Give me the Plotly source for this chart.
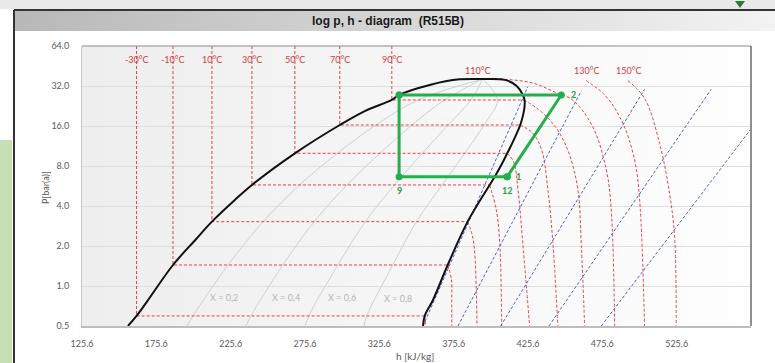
import base64
import math
import plotly.graph_objects as go

# ---------------- data ----------------
# saturation dome: liquid line up to critical point, then vapour line down
dome_h = [156.5, 162.3, 169.3, 186.8, 201.8, 213.0, 228.4, 239.9, 268.8, 299.0, 316.5,
          334.0, 338.9, 359.5, 379.7, 395.1, 410.0, 417.8, 422.2, 423.4, 421.1, 415.5,
          411.6, 408.8, 403.2, 399.8, 385.0, 371.6, 361.7, 356.1, 355.0]
dome_p = [0.5, 0.595, 0.763, 1.439, 2.22, 3.05, 4.44, 5.76, 9.97, 16.28, 20.9,
          25.11, 27.4, 32.6, 35.9, 36.12, 35.6, 32.2, 27.4, 24.4, 17.2, 12.2,
          9.97, 8.62, 6.65, 5.76, 3.05, 1.439, 0.785, 0.595, 0.5]

# isotherms (h, p); subcritical ones: top -> liquid line -> vapour line -> superheated curve
t_m30_h = [162.3, 162.3, 356.1, 356.8]
t_m30_p = [64, 0.595, 0.595, 0.5]
t_m10_h = [186.8, 186.8, 371.6, 374.1, 374.3, 374.3]
t_m10_p = [64, 1.439, 1.439, 1.11, 0.785, 0.5]
t_10_h = [213.0, 213.0, 385.0, 388.1, 389.8, 390.8, 391.3]
t_10_p = [64, 3.05, 3.05, 2.42, 1.762, 0.933, 0.5]
t_30_h = [239.9, 239.9, 399.8, 404.3, 406.6, 407.9]
t_30_p = [64, 5.76, 5.76, 3.73, 2.10, 0.5]
t_50_h = [268.8, 268.8, 411.6, 416.0, 418.9, 422.2, 426.7]
t_50_p = [64, 9.97, 9.97, 8.57, 5.28, 2.03, 0.5]
t_70_h = [299.0, 299.0, 420.3, 428.7, 434.8, 439.0, 442.2, 445.7]
t_70_p = [64, 16.28, 16.28, 14.17, 10.56, 5.28, 2.22, 0.5]
t_90_h = [334.0, 334.0, 422.7, 431.4, 440.2, 446.9, 453.6, 459.2, 461.5, 463.7]
t_90_p = [64, 25.11, 25.11, 21.86, 17.75, 14.10, 9.68, 5.28, 1.976, 0.5]
t_110_h = [396.5, 406.6, 428.7, 443.5, 455.6, 469.1, 478.3, 481.6, 483.9]
t_110_p = [36.12, 36.12, 33.71, 28.84, 25.11, 15.81, 7.46, 3.73, 0.5]
t_130_h = [464.8, 478.3, 489.4, 497.3, 500.7, 504.0]
t_130_p = [35.08, 26.59, 16.77, 8.88, 4.44, 0.5]
t_150_h = [492.8, 504.0, 514.1, 520.8, 524.2, 525.3]
t_150_p = [35.08, 25.86, 11.86, 4.98, 2.35, 0.5]

iso_labels = ["-30°C", "-10°C", "10°C", "30°C", "50°C", "70°C", "90°C", "110°C", "130°C", "150°C"]
iso_label_h = [162.3, 186.8, 213.0, 239.9, 268.8, 299.0, 334.0, 391.8, 464.8, 493.5]
iso_label_p = [50.8, 50.8, 50.8, 50.8, 50.8, 50.8, 50.8, 42.2, 42.2, 42.2]

# isentropes (start at bottom, end top-right)
s1_h = [355.0, 425.5]; s1_p = [0.5, 31.6]
s2_h = [378.5, 461.5]; s2_p = [0.5, 29.5]
s3_h = [407.2, 504.0]; s3_p = [0.5, 30.2]
s4_h = [439.7, 548.8]; s4_p = [0.5, 30.2]
s5_h = [474.9, 575.0]; s5_p = [0.5, 14.93]

# vapour quality lines
q_p = [0.5, 0.595, 1.439, 3.05, 5.76, 9.97, 16.28, 25.11, 36.12]
x02_h = [196.2, 200.2, 223.8, 247.4, 271.9, 297.4, 323.3, 351.7, 395.1]
x04_h = [235.9, 239.2, 260.7, 281.8, 303.9, 326.0, 347.5, 369.5, 395.1]
x06_h = [275.7, 278.1, 297.7, 316.2, 335.8, 354.5, 371.8, 387.2, 395.1]
x08_h = [315.3, 317.1, 334.6, 350.6, 367.8, 383.0, 396.0, 405.0, 395.1]
q_labels = ["X = 0,2", "X = 0,4", "X = 0,6", "X = 0,8"]
q_label_h = [220.8, 262.7, 300.4, 338.0]
q_label_p = [0.822, 0.822, 0.822, 0.81]

# refrigeration cycle
cycle_h = [338.9, 448.0, 411.6, 411.6, 338.9, 338.9]
cycle_p = [27.4, 27.4, 6.65, 6.65, 6.65, 27.4]
pt_labels = ["2", "1", "12", "9"]
pt_h = [448.0, 411.6, 411.6, 338.9]
pt_p = [27.4, 6.65, 6.65, 6.65]

x_ticks = [125.6, 175.6, 225.6, 275.6, 325.6, 375.6, 425.6, 475.6, 525.6]
y_ticks = [0.5, 1, 2, 4, 8, 16, 32, 64]
y_ticktext = ["0.5", "1.0", "2.0", "4.0", "8.0", "16.0", "32.0", "64.0"]

# ---------------- style ----------------
RED = "#e2434a"
BLUE = "#4f5fbf"
GREEN = "#22b04b"
GREY_Q = "#d0d0d0"
TICKC = "#595959"
FONT = "Lato, Calibri, Arial, sans-serif"
W, H = 775, 363
L, R, T, B = 82, 24, 46, 37
PW, PH = W - L - R, H - T - B


def px_x(px):
    return (px - L) / PW


def px_y(py):
    return (H - B - py) / PH


def grad(c1, c2):
    svg = ('<svg xmlns="http://www.w3.org/2000/svg" width="100" height="10" preserveAspectRatio="none">'
           '<defs><linearGradient id="g" x1="0" y1="0" x2="1" y2="0">'
           f'<stop offset="0" stop-color="{c1}"/><stop offset="1" stop-color="{c2}"/>'
           '</linearGradient></defs><rect width="100" height="10" fill="url(#g)"/></svg>')
    return "data:image/svg+xml;base64," + base64.b64encode(svg.encode()).decode()


fig = go.Figure()

# quality lines
for qh in [x02_h, x04_h, x06_h, x08_h]:
    fig.add_trace(go.Scatter(x=qh, y=q_p, mode="lines", line=dict(color=GREY_Q, width=1, shape="spline"),
                             hoverinfo="skip", showlegend=False))

# isotherms
subcrit = [(t_m30_h, t_m30_p), (t_m10_h, t_m10_p), (t_10_h, t_10_p), (t_30_h, t_30_p),
           (t_50_h, t_50_p), (t_70_h, t_70_p), (t_90_h, t_90_p)]
for th, tp in subcrit:
    fig.add_trace(go.Scatter(x=th[:3], y=tp[:3], mode="lines",
                             line=dict(color=RED, width=1, dash="3px,2px"),
                             hoverinfo="skip", showlegend=False))
    fig.add_trace(go.Scatter(x=th[2:], y=tp[2:], mode="lines",
                             line=dict(color=RED, width=1, dash="3px,2px", shape="spline"),
                             hoverinfo="skip", showlegend=False))
for th, tp in [(t_110_h, t_110_p), (t_130_h, t_130_p), (t_150_h, t_150_p)]:
    fig.add_trace(go.Scatter(x=th, y=tp, mode="lines",
                             line=dict(color=RED, width=1, dash="3px,2px", shape="spline"),
                             hoverinfo="skip", showlegend=False))

# isentropes
for sh, sp in [(s1_h, s1_p), (s2_h, s2_p), (s3_h, s3_p), (s4_h, s4_p), (s5_h, s5_p)]:
    fig.add_trace(go.Scatter(x=sh, y=sp, mode="lines", line=dict(color=BLUE, width=1, dash="3px,2px"),
                             hoverinfo="skip", showlegend=False))

# dome
fig.add_trace(go.Scatter(x=dome_h, y=dome_p, mode="lines",
                         line=dict(color="#111111", width=2, shape="spline", smoothing=1.0),
                         hoverinfo="skip", showlegend=False))

# cycle
fig.add_trace(go.Scatter(x=cycle_h, y=cycle_p, mode="lines+markers",
                         line=dict(color=GREEN, width=3), marker=dict(color=GREEN, size=7),
                         hoverinfo="skip", showlegend=False))

annotations = []
for lab, h, p in zip(iso_labels, iso_label_h, iso_label_p):
    annotations.append(dict(x=h, y=math.log10(p), xref="x", yref="y", text=lab, showarrow=False,
                            xanchor="center", yanchor="middle",
                            font=dict(family=FONT, size=9, color="#cc4040")))
for lab, h, p in zip(q_labels, q_label_h, q_label_p):
    annotations.append(dict(x=h, y=math.log10(p), xref="x", yref="y", text=lab, showarrow=False,
                            xanchor="center", yanchor="middle",
                            font=dict(family=FONT, size=9, color="#b5b5b5")))
offs = {"2": (12, 0), "1": (11, 0), "12": (0, -14), "9": (0, -14)}
for lab, h, p in zip(pt_labels, pt_h, pt_p):
    dx, dy = offs[lab]
    annotations.append(dict(x=h, y=math.log10(p), xref="x", yref="y", text=f"<b>{lab}</b>",
                            showarrow=False, xanchor="center", yanchor="middle",
                            xshift=dx, yshift=dy, font=dict(family=FONT, size=9, color="#1d9e43")))

annotations += [
    dict(x=px_x(388), y=px_y(21), xref="paper", yref="paper", text="<b>log p, h - diagram  (R515B)</b>",
         showarrow=False, font=dict(family="Liberation Sans Narrow, Liberation Sans, Arial", size=12,
                                    color="#1a1a1a"), xanchor="center", yanchor="middle"),
    dict(x=px_x(45), y=px_y(188), xref="paper", yref="paper", text="P[bar(a)]", textangle=-90,
         showarrow=False, xanchor="center", yanchor="middle",
         font=dict(family=FONT, size=9, color=TICKC)),
    dict(x=px_x(415), y=px_y(356), xref="paper", yref="paper", text="h [kJ/kg]",
         showarrow=False, xanchor="center", yanchor="middle",
         font=dict(family=FONT, size=10, color=TICKC)),
]

shapes = [
    # top strip
    dict(type="rect", xref="paper", yref="paper", x0=px_x(0), x1=px_x(W), y0=px_y(0), y1=px_y(9),
         fillcolor="#e9e9e9", line=dict(width=0), layer="below"),
    dict(type="path", xref="paper", yref="paper",
         path=f"M {px_x(735)} {px_y(1)} L {px_x(745)} {px_y(1)} L {px_x(740)} {px_y(8)} Z",
         fillcolor="#2e7d32", line=dict(width=0)),
    # green sidebar
    dict(type="rect", xref="paper", yref="paper", x0=px_x(0), x1=px_x(12), y0=px_y(140), y1=px_y(H),
         fillcolor="#c6e0b4", line=dict(width=0), layer="below"),
    # frame
    dict(type="line", xref="paper", yref="paper", x0=px_x(14), x1=px_x(14), y0=px_y(10), y1=px_y(H),
         line=dict(color="#333333", width=2)),
    dict(type="line", xref="paper", yref="paper", x0=px_x(14), x1=px_x(W), y0=px_y(10), y1=px_y(10),
         line=dict(color="#333333", width=2)),
    # plot top and right borders
    dict(type="line", xref="paper", yref="paper", x0=0, x1=1, y0=1, y1=1,
         line=dict(color="#8a8a8a", width=1)),
    dict(type="line", xref="paper", yref="paper", x0=1, x1=1, y0=0, y1=1,
         line=dict(color="#6a6a6a", width=1.5)),
]

images = [
    dict(source=grad("#b8b8b8", "#f3f3f3"), xref="paper", yref="paper", x=px_x(15), y=px_y(11),
         sizex=px_x(W) - px_x(15), sizey=px_y(11) - px_y(31), xanchor="left", yanchor="top",
         sizing="stretch", layer="below"),
    dict(source=grad("#eeeeee", "#fefefe"), xref="paper", yref="paper", x=0, y=1,
         sizex=1, sizey=1, xanchor="left", yanchor="top", sizing="stretch", layer="below"),
]

fig.update_layout(
    width=W, height=H,
    margin=dict(l=L, r=R, t=T, b=B),
    paper_bgcolor="white", plot_bgcolor="rgba(0,0,0,0)",
    showlegend=False,
    annotations=annotations, shapes=shapes, images=images,
    xaxis=dict(range=[125.6, 575.6], tickvals=x_ticks, ticktext=[f"{v:.1f}" for v in x_ticks],
               showgrid=False, zeroline=False, showline=True, linecolor="#bdbdbd", linewidth=1.5,
               ticks="", ticklabelstandoff=8, tickfont=dict(family=FONT, size=9, color=TICKC)),
    yaxis=dict(type="log", range=[math.log10(0.5), math.log10(64)], tickvals=y_ticks,
               ticktext=y_ticktext, showgrid=True, gridcolor="#dedede", gridwidth=1, zeroline=False,
               showline=True, linecolor="#c8c8c8", linewidth=1, ticks="", ticklabelstandoff=10,
               tickfont=dict(family=FONT, size=9, color=TICKC)),
)

fig.write_html("out.html", config={"displayModeBar": False},
               post_script="document.body.style.margin='0';")
